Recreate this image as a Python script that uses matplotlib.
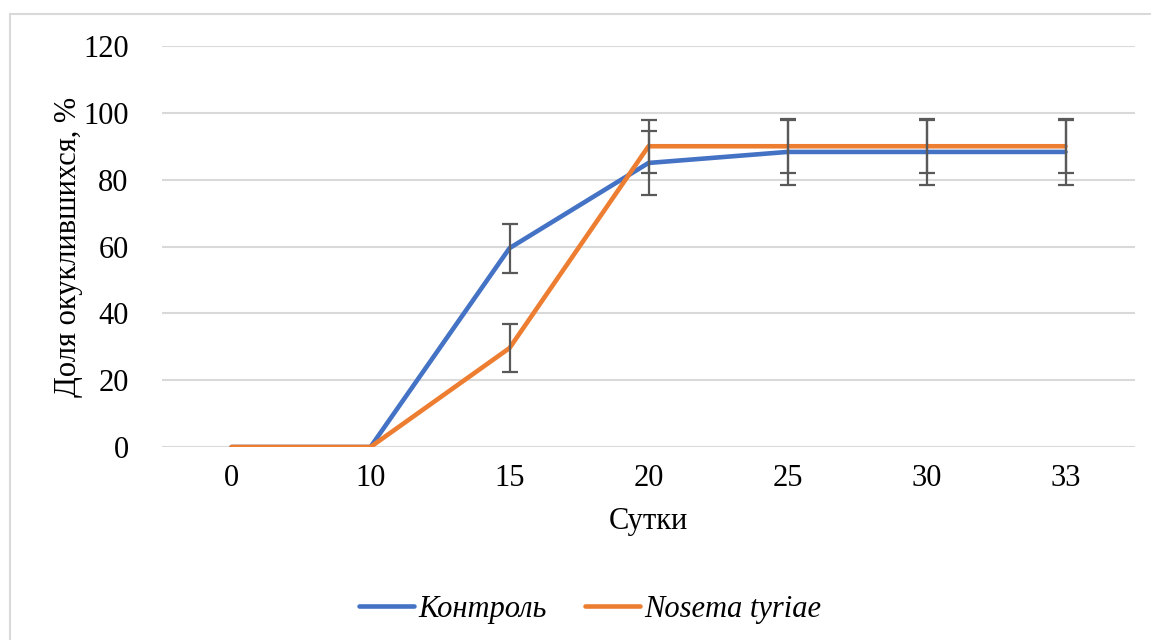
import matplotlib.pyplot as plt
from matplotlib.patches import Rectangle
import numpy as np

days = ["0", "10", "15", "20", "25", "30", "33"]
control = [0, 0, 59.5, 85, 88.3, 88.3, 88.3]
control_err = [0, 0, 7.3, 9.5, 9.8, 9.8, 9.8]
nosema = [0, 0, 29.6, 90, 90, 90, 90]
nosema_err = [0, 0, 7.3, 8, 8, 8, 8]

plt.rcParams["font.family"] = ["Liberation Serif", "DejaVu Serif"]

fig = plt.figure(figsize=(11.51, 6.4), dpi=100)
ax = fig.add_axes([162 / 1151, (640 - 447) / 640, (1135 - 162) / 1151, (447 - 46) / 640])

# thin grey frame around the whole chart
fig.patches.append(Rectangle((10 / 1151, -0.1), 1.2, (640 - 14) / 640 + 0.1,
                             transform=fig.transFigure, fill=False,
                             edgecolor="#d9d9d9", linewidth=1.5))

x = np.arange(len(days))
ax.plot(x, control, color="#4472c4", linewidth=3.3, solid_capstyle="round",
        label="Контроль", zorder=3)
ax.plot(x, nosema, color="#ed7d31", linewidth=3.3, solid_capstyle="round",
        label="Nosema tyriae", zorder=4)

mask = np.array(control_err) > 0
ax.errorbar(x[mask], np.array(control)[mask], yerr=np.array(control_err)[mask],
            fmt="none", ecolor="#595959", elinewidth=1.6, capsize=6, capthick=1.6,
            zorder=5)
ax.errorbar(x[mask], np.array(nosema)[mask], yerr=np.array(nosema_err)[mask],
            fmt="none", ecolor="#595959", elinewidth=1.6, capsize=6, capthick=1.6,
            zorder=5)

ax.set_xlim(-0.5, len(days) - 0.5)
ax.set_ylim(0, 120)
ax.set_yticks(range(0, 121, 20))
ax.set_xticks(x)
ax.set_xticklabels(days)
ax.tick_params(axis="both", length=0, labelsize=22, colors="black")
ax.tick_params(axis="y", pad=24)
ax.tick_params(axis="x", pad=12)
ax.grid(axis="y", color="#d9d9d9", linewidth=1.5)
ax.set_axisbelow(True)
for s in ax.spines.values():
    s.set_visible(False)

ax.set_xlabel("Сутки", fontsize=22, labelpad=10)
ax.set_ylabel("Доля окуклившихся, %", fontsize=22, labelpad=0)

leg = fig.legend(loc="center", bbox_to_anchor=(590 / 1151, (640 - 609) / 640),
                 ncol=2, frameon=False, handlelength=1.8, columnspacing=1.25,
                 handletextpad=0.15, prop={"size": 22, "style": "italic"})

fig.savefig("out.png", dpi=100)
